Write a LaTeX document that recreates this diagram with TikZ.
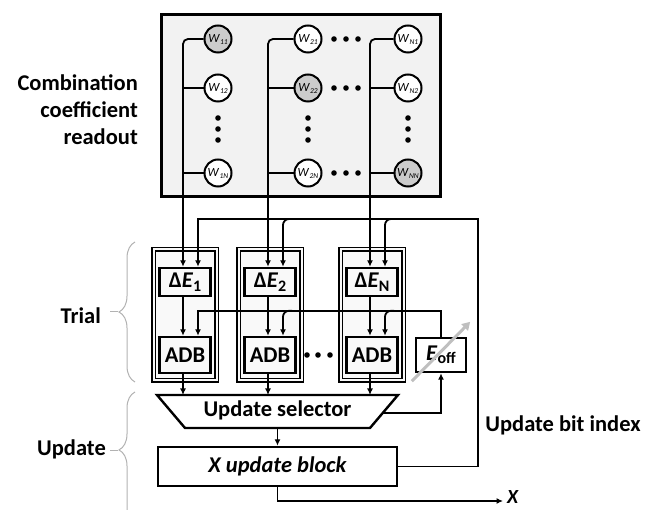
\documentclass[tikz,border=0pt]{standalone}
\usepackage{fontspec}
\setmainfont{Carlito}
\usetikzlibrary{arrows.meta,decorations.pathreplacing,calc}

% coefficient label W_ij inside a readout cell
\newcommand{\wsub}[1]{\textit{W}\kern0.2pt\raisebox{-2pt}{\fontsize{7.5}{7.5}\selectfont\textit{#1}}}
% energy-difference label
\newcommand{\dEsub}[1]{Δ\textit{E}\raisebox{-3.5pt}{\fontsize{16}{16}\selectfont\bfseries #1}}

\begin{document}
\begin{tikzpicture}[x=1pt,y=-1pt,
  wire/.style={line width=1.8pt},
  arr/.style={wire,-{Latex[length=6.5pt,width=6pt]}},
  lbl/.style={font=\fontsize{22.5}{27}\selectfont\bfseries,inner sep=0pt},
  blk/.style={draw,line width=2.4pt,fill=white,inner sep=0pt,
    font=\fontsize{22.5}{27}\selectfont\bfseries},
  coef/.style={draw,line width=3.2pt,fill=gray!10,minimum width=279pt,minimum height=182pt},
  wc/.style={draw,circle,line width=2pt,fill=white,minimum size=27pt,inner sep=0pt,
    font=\fontsize{12.5}{12.5}\selectfont},
  wsel/.style={wc,fill=gray!40},
  colbox/.style={draw,line width=1.9pt,double=gray!5,double distance=2pt,fill=gray!5,
    minimum width=63pt,minimum height=131pt,inner sep=0pt},
  debox/.style={blk,fill=gray!5,minimum width=51pt,minimum height=28pt},
  adbbox/.style={blk,fill=gray!5,minimum width=51pt,minimum height=36pt},
  brc/.style={draw=gray!60,line width=1pt,decorate,decoration={brace,amplitude=16pt}},
  tick/.style={draw=gray!60,line width=1pt},
  dot/.style={fill=black}
]
\useasboundingbox (0,0) rectangle (656,510);
\clip (0,0) rectangle (656,510);

% ---------- combination coefficient readout array ----------
\node[coef] (coef) at (301,105.5) {};
\node[wsel] (w11) at (218,39)  {\wsub{11}};
\node[wc]   (w12) at (218,88)  {\wsub{12}};
\node[wc]   (w1n) at (218,173) {\wsub{1N}};
\node[wc]   (w21) at (308,39)  {\wsub{21}};
\node[wsel] (w22) at (308,88)  {\wsub{22}};
\node[wc]   (w2n) at (308,173) {\wsub{2N}};
\node[wc]   (wn1) at (408,39)  {\wsub{N1}};
\node[wc]   (wn2) at (408,88)  {\wsub{N2}};
\node[wsel] (wnn) at (408,173) {\wsub{NN}};
\foreach \x in {218,308,408}
  \foreach \y in {118,129,140}
    \fill[dot] (\x,\y) circle (2.8pt);
\foreach \y in {39,88,173}
  \foreach \x in {334,346,358}
    \fill[dot] (\x,\y) circle (2.8pt);

% ---------- trial columns ----------
\node[colbox] (col1) at (185,315) {};
\node[colbox] (col2) at (270,315) {};
\node[colbox] (coln) at (372,315) {};
\node[debox] (de1) at (185,282) {\dEsub{1}};
\node[debox] (de2) at (270,282) {\dEsub{2}};
\node[debox] (den) at (372,282) {\dEsub{N}};
\node[adbbox] (adb1) at (185,355) {ADB};
\node[adbbox] (adb2) at (270,355) {ADB};
\node[adbbox] (adbn) at (372,355) {ADB};
\foreach \x in {307,318,330}
  \fill[dot] (\x,355) circle (2.8pt);

\node[blk,minimum width=50pt,minimum height=34pt] (eoff) at (441,355)
  {\textit{E}\raisebox{-3.5pt}{\fontsize{16}{16}\selectfont\bfseries off}};
\draw[gray!50,line width=3pt,-{Triangle[length=8pt,width=9pt]}]
  ([xshift=-3pt,yshift=-8pt]eoff.south west) -- ([xshift=3pt,yshift=15pt]eoff.north east);

% bus and feedback x positions of each column
\coordinate (bx1) at (183,0);  \coordinate (fx1) at (198,0);
\coordinate (bx2) at (268,0);  \coordinate (fx2) at (283,0);
\coordinate (bxn) at (370,0);  \coordinate (fxn) at (385,0);

% readout buses
\draw[arr,rounded corners=5pt] (w11.west) -| (bx1 |- de1.north);
\draw[wire] (w12.west) -- (w12.west -| bx1);
\draw[wire] (w1n.west) -- (w1n.west -| bx1);
\draw[arr,rounded corners=5pt] (w21.west) -| (bx2 |- de2.north);
\draw[wire] (w22.west) -- (w22.west -| bx2);
\draw[wire] (w2n.west) -- (w2n.west -| bx2);
\draw[arr,rounded corners=5pt] (wn1.west) -| (bxn |- den.north);
\draw[wire] (wn2.west) -- (wn2.west -| bxn);
\draw[wire] (wnn.west) -- (wnn.west -| bxn);

% Delta E to ADB
\draw[arr] (bx1 |- de1.south) -- (bx1 |- adb1.north);
\draw[arr] (bx2 |- de2.south) -- (bx2 |- adb2.north);
\draw[arr] (bxn |- den.south) -- (bxn |- adbn.north);

% ---------- update stage ----------
\coordinate (sTL) at (157,395);
\coordinate (sTR) at (398,395);
\coordinate (sBR) at (370,428);
\coordinate (sBL) at (185,428);
\draw[line width=2.4pt,fill=white] (sTL) -- (sTR) -- (sBR) -- (sBL) -- cycle;
\node[lbl] (sel) at (277.5,410.5) {Update selector};
\node[blk,minimum width=239pt,minimum height=39pt] (xub) at (277.5,466.5)
  {\itshape X update block};

\draw[arr] (bx1 |- adb1.south) -- (bx1 |- sTL);
\draw[arr] (bx2 |- adb2.south) -- (bx2 |- sTL);
\draw[arr] (bxn |- adbn.south) -- (bxn |- sTL);

\coordinate (sR) at ($(sTR)!0.55!(sBR)$);
\draw[arr] (sR) -| (eoff.south);
\draw[arr] (xub.north |- sBL) -- (xub.north);

% update bit index feedback into the Delta E blocks
\coordinate (ubi) at (478,219);
\draw[arr] (xub.east) -| (ubi) -- (ubi -| fx1) [rounded corners=6pt] -- (fx1 |- de1.north);
\path (ubi -| fx2) ++(9,0) coordinate (j2);
\path (ubi -| fxn) ++(9,0) coordinate (jn);
\draw[arr,rounded corners=6pt] (j2) -| (fx2 |- de2.north);
\draw[arr,rounded corners=6pt] (jn) -| (fxn |- den.north);

% offset energy into the ADB blocks
\path (eoff.north) ++(0,-26) coordinate (ef);
\draw[arr] (eoff.north) -- (ef) -- (ef -| fx1) [rounded corners=6pt] -- (fx1 |- adb1.north);
\path (ef -| fx2) ++(9,0) coordinate (k2);
\path (ef -| fxn) ++(9,0) coordinate (kn);
\draw[arr,rounded corners=6pt] (k2) -| (fx2 |- adb2.north);
\draw[arr,rounded corners=6pt] (kn) -| (fxn |- adbn.north);

% output
\coordinate (xo) at (503,501);
\draw[arr] (xub.south) |- (xo);
\node[lbl,anchor=west,font=\fontsize{20}{24}\selectfont\bfseries\itshape] (xlab) at (507,497) {X};

\node[lbl] (ubil) at (563,425) {Update bit index};

% ---------- stage labels ----------
\node[lbl,align=right,anchor=east] (readout) at (138,110) {Combination\\coefficient\\readout};
\node[lbl,anchor=east] (trial) at (101,316) {Trial};
\node[lbl,anchor=east] (update) at (106,449) {Update};
\draw[brc] (135,382) -- (135,242);
\draw[tick] (110,312) -- (118,312);
\draw[brc,decoration={brace,amplitude=16pt,aspect=0.58}] (135,530) -- (135,392);
\draw[tick] (110,450) -- (118,450);
\end{tikzpicture}
\end{document}
